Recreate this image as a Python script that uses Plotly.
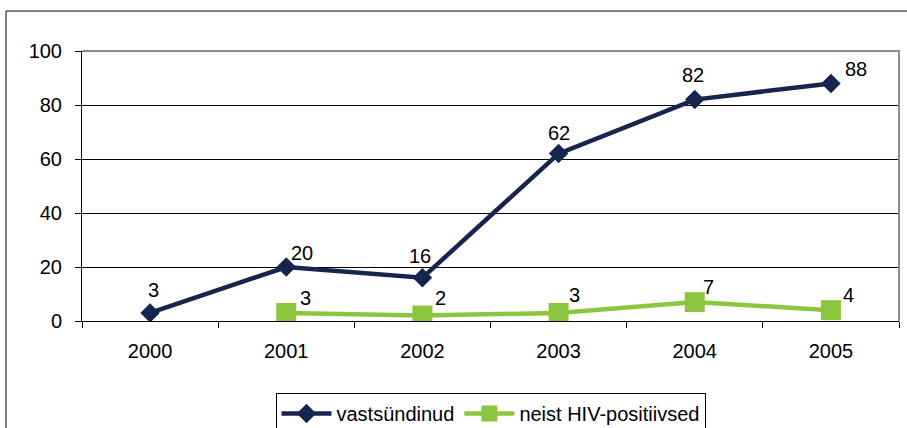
import plotly.graph_objects as go

years = ["2000", "2001", "2002", "2003", "2004", "2005"]
newborns = [3, 20, 16, 62, 82, 88]
hiv_positive = [None, 3, 2, 3, 7, 4]
series_names = ["vastsündinud", "neist HIV-positiivsed"]
y_ticks = [0, 20, 40, 60, 80, 100]

# label offsets (pixels) relative to each point
navy_off = [(3, -23), (16, -14), (-2, -22), (0, -21), (-2, -25), (25, -14)]
green_off = [None, (19, -15), (18, -18), (16, -18), (14, -15), (18, -15)]

NAVY = "#16254F"
GREEN = "#8CC63F"
FONT = "Liberation Sans, Arial, sans-serif"
FS = 20

fig = go.Figure()
fig.add_trace(go.Scatter(
    x=years, y=newborns, name=series_names[0], mode="lines+markers",
    line=dict(color=NAVY, width=4.5),
    marker=dict(symbol="diamond", size=15, color=NAVY),
))
fig.add_trace(go.Scatter(
    x=years, y=hiv_positive, name=series_names[1], mode="lines+markers",
    line=dict(color=GREEN, width=4.5),
    marker=dict(symbol="square", size=20, color=GREEN),
))

ann = []
for i, (v, off) in enumerate(zip(newborns, navy_off)):
    ann.append(dict(x=i, y=v, text=str(v), showarrow=False, xshift=off[0], yshift=-off[1],
                    font=dict(size=FS, color="black", family=FONT)))
for i, (v, off) in enumerate(zip(hiv_positive, green_off)):
    if v is None:
        continue
    ann.append(dict(x=i, y=v, text=str(v), showarrow=False, xshift=off[0], yshift=-off[1],
                    font=dict(size=FS, color="black", family=FONT)))

shapes = [
    # outer chart frame
    dict(type="rect", xref="paper", yref="paper", x0=-0.093, x1=1.05, y0=1.148, y1=-0.6,
         line=dict(color="black", width=1), layer="below"),
    # plot area border (gray) on top and right
    dict(type="line", xref="paper", yref="paper", x0=0, x1=1.001, y0=1, y1=1,
         line=dict(color="#8C8C8C", width=2), layer="above"),
    dict(type="line", xref="paper", yref="paper", x0=1, x1=1, y0=0, y1=1.003,
         line=dict(color="#8C8C8C", width=2), layer="above"),
]

fig.update_layout(
    width=907, height=428,
    margin=dict(l=82, r=8, t=51, b=107, autoexpand=False),
    paper_bgcolor="white", plot_bgcolor="white",
    font=dict(family=FONT, size=FS, color="black"),
    showlegend=True,
    legend=dict(orientation="h", x=0.5, xanchor="center", y=-0.267, yanchor="top",
                bordercolor="black", borderwidth=1, font=dict(size=FS),
                itemwidth=50, tracegroupgap=0),
    annotations=ann,
    shapes=shapes,
    xaxis=dict(type="category", range=[-0.5, len(years) - 0.5], showgrid=False,
               showline=True, linecolor="black", linewidth=1,
               ticks="outside", tickson="boundaries", ticklen=6, tickcolor="black",
               tickangle=0, tickfont=dict(size=FS), ticklabelstandoff=12, fixedrange=True),
    yaxis=dict(range=[0, 100], tickvals=y_ticks, showgrid=True, gridcolor="black", gridwidth=1,
               showline=True, linecolor="black", linewidth=1, ticks="outside", ticklen=6,
               tickcolor="black", tickfont=dict(size=FS), ticklabelstandoff=9,
               zeroline=False, fixedrange=True),
)

fig.write_html("out.html", config={"displayModeBar": False},
               post_script="document.body.style.margin='0';document.body.style.overflow='hidden';")
